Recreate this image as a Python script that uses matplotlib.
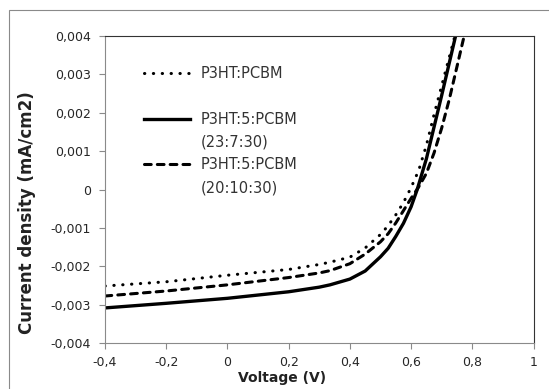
import matplotlib.pyplot as plt
from matplotlib.lines import Line2D
from matplotlib.patches import Rectangle

# J-V curves (current density in mA/cm2)
v_ref = [-0.4, -0.2, 0.0, 0.2, 0.3, 0.335, 0.4, 0.45, 0.5, 0.525, 0.55, 0.575, 0.6,
         0.625, 0.65, 0.675, 0.7, 0.725, 0.75]
j_ref = [-0.00251, -0.00240, -0.00223, -0.00208, -0.00195, -0.00189, -0.00176, -0.00152,
         -0.00117, -0.00094, -0.00066, -0.00034, 0.00005, 0.00050, 0.00115, 0.00195,
         0.00270, 0.00345, 0.00420]

v_23 = [-0.4, -0.2, 0.0, 0.2, 0.3, 0.335, 0.4, 0.45, 0.5, 0.525, 0.55, 0.575, 0.6,
        0.62, 0.65, 0.7, 0.75]
j_23 = [-0.00308, -0.00296, -0.00283, -0.00266, -0.00254, -0.00248, -0.00233, -0.00212,
        -0.00175, -0.00153, -0.00122, -0.00088, -0.00045, 0.00000, 0.00080, 0.00245,
        0.00415]

v_20 = [-0.4, -0.2, 0.0, 0.2, 0.3, 0.335, 0.4, 0.45, 0.5, 0.525, 0.55, 0.575, 0.6,
        0.625, 0.65, 0.675, 0.7, 0.725, 0.75, 0.775, 0.785]
j_20 = [-0.00277, -0.00264, -0.00248, -0.00229, -0.00217, -0.00211, -0.00193, -0.00168,
        -0.00136, -0.00115, -0.00087, -0.00055, -0.00023, 0.00007, 0.00042, 0.00095,
        0.00160, 0.00235, 0.00320, 0.00405, 0.00440]

x_ticks = [-0.4, -0.2, 0, 0.2, 0.4, 0.6, 0.8, 1]
y_ticks = [-0.004, -0.003, -0.002, -0.001, 0, 0.001, 0.002, 0.003, 0.004]


def comma(v, nd):
    if abs(v) < 1e-12:
        return "0"
    if float(v).is_integer():
        return str(int(v))
    return f"{v:.{nd}f}".replace(".", ",")


fig = plt.figure(figsize=(5.49, 3.89), dpi=100)
fig.patches.append(Rectangle((0.0164, -0.1), 1.2, 1.074, transform=fig.transFigure,
                             fill=False, edgecolor="#8a8a8a", linewidth=0.8))
ax = fig.add_axes([0.1913, 0.1175, 0.7805, 0.7907])

dots = (0, (0.1, 2.8))
dashes = (0, (2.2, 2.0))

ax.plot(v_ref, j_ref, color="black", linewidth=2.2, linestyle=dots, dash_capstyle="round")
ax.plot(v_23, j_23, color="black", linewidth=2.4, solid_capstyle="butt")
ax.plot(v_20, j_20, color="black", linewidth=2.2, linestyle=dashes, dash_capstyle="round")

ax.set_xlim(-0.4, 1)
ax.set_ylim(-0.004, 0.004)
ax.set_xticks(x_ticks)
ax.set_yticks(y_ticks)
ax.set_xticklabels([comma(t, 1) for t in x_ticks])
ax.set_yticklabels([comma(t, 3) for t in y_ticks])
ax.tick_params(axis="both", direction="out", length=4, width=0.8, color="#8a8a8a",
               labelsize=9, labelcolor="#262626")
ax.tick_params(axis="x", pad=5)
ax.tick_params(axis="y", pad=6)

for side in ["left", "bottom"]:
    ax.spines[side].set_color("#8a8a8a")
for side in ["top", "right"]:
    ax.spines[side].set_color("#333333")

ax.set_xlabel("Voltage (V)", fontsize=10, fontweight="bold", color="#222222")
ax.set_ylabel("Current density (mA/cm2)", fontsize=12, fontweight="bold", color="#222222")
ax.xaxis.set_label_coords(0.412, -0.09)
ax.yaxis.set_label_coords(-0.16, 0.424)

blank = Line2D([], [], linestyle="none")
handles = [
    Line2D([], [], color="black", linewidth=2.2, linestyle=dots, dash_capstyle="round"),
    blank,
    Line2D([], [], color="black", linewidth=2.4),
    blank,
    Line2D([], [], color="black", linewidth=2.2, linestyle=dashes, dash_capstyle="round"),
    blank,
]
labels = ["P3HT:PCBM", "", "P3HT:5:PCBM", "(23:7:30)", "P3HT:5:PCBM", "(20:10:30)"]
ax.legend(handles, labels, loc="upper left", bbox_to_anchor=(0.09, 0.90), frameon=False,
          fontsize=10.5, handlelength=3.2, handletextpad=0.7, labelspacing=0.53,
          borderpad=0, borderaxespad=0, labelcolor="#333333")

fig.savefig("out.png", dpi=100)
